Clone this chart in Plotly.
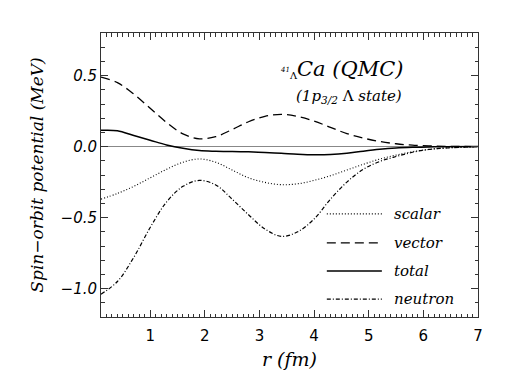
import plotly.graph_objects as go

# radius grid (fm)
r = [0.1, 0.4, 0.7, 1.0, 1.3, 1.6, 1.9, 2.2, 2.5, 2.8, 3.1, 3.4, 3.7, 4.0,
     4.3, 4.6, 4.9, 5.2, 5.5, 5.8, 6.1, 6.4, 7.0]

scalar = [-0.37, -0.33, -0.28, -0.22, -0.16, -0.11, -0.087, -0.11, -0.165, -0.22,
          -0.252, -0.268, -0.262, -0.238, -0.205, -0.165, -0.125, -0.088, -0.06,
          -0.036, -0.02, -0.01, 0.0]
vector = [0.49, 0.45, 0.37, 0.27, 0.17, 0.09, 0.055, 0.07, 0.12, 0.175, 0.213,
          0.227, 0.212, 0.18, 0.135, 0.092, 0.06, 0.036, 0.02, 0.01, 0.005, 0.002, 0.0]
total = [0.115, 0.112, 0.078, 0.045, 0.012, -0.012, -0.028, -0.033, -0.035, -0.037,
         -0.041, -0.047, -0.054, -0.058, -0.056, -0.047, -0.032, -0.019, -0.01,
         -0.005, -0.002, -0.001, 0.0]
neutron = [-1.04, -0.95, -0.78, -0.57, -0.39, -0.28, -0.238, -0.27, -0.37, -0.48,
           -0.58, -0.632, -0.60, -0.51, -0.37, -0.25, -0.16, -0.105, -0.07,
           -0.04, -0.02, -0.01, 0.0]

names = ["scalar", "vector", "total", "neutron"]
series = [scalar, vector, total, neutron]
dashes = ["1px,2px", "9px,5px", "solid", "4px,2px,1px,2px"]
widths = [1.1, 1.3, 1.5, 1.2]

serif = "DejaVu Serif"
sans = "DejaVu Sans"

fig = go.Figure()
for nm, ys, d, w in zip(names, series, dashes, widths):
    fig.add_trace(go.Scatter(x=r, y=ys, mode="lines", name=nm, showlegend=False,
                             line=dict(color="black", width=w, dash=d, shape="spline")))

# legend drawn as decoration
leg_y = [0.363, 0.261, 0.162, 0.063]
for nm, d, w, yy in zip(names, dashes, widths, leg_y):
    fig.add_shape(type="line", xref="paper", yref="paper", x0=0.599, x1=0.745,
                  y0=yy, y1=yy, line=dict(color="black", width=w, dash=d))
    fig.add_annotation(xref="paper", yref="paper", x=0.772, y=yy, xanchor="left",
                       yanchor="middle", showarrow=False, text="<i>%s</i>" % nm,
                       font=dict(family=serif, size=15, color="black"))

fig.add_annotation(xref="paper", yref="paper", x=0.637, y=0.875, showarrow=False,
                   xanchor="center", yanchor="middle",
                   text=("<span style='font-size:10px'><sup><i>41</i></sup></span>"
                         "<span style='font-size:14px'><sub>Λ</sub></span>"
                         "<i>Ca (QMC)</i>"),
                   font=dict(family=serif, size=21, color="black"))
fig.add_annotation(xref="paper", yref="paper", x=0.658, y=0.775, showarrow=False,
                   xanchor="center", yanchor="middle",
                   text="<i>(1p<sub>3/2</sub></i> Λ <i>state)</i>",
                   font=dict(family=serif, size=15, color="black"))

axis_common = dict(showline=True, linecolor="#333", linewidth=1, mirror="allticks",
                   ticks="inside", ticklen=7, tickcolor="#333", showgrid=False)

fig.update_xaxes(range=[0.1, 7], tick0=0, dtick=1, **axis_common,
                 minor=dict(dtick=0.1, ticks="inside", ticklen=3.5, tickcolor="#333"),
                 tickfont=dict(family=sans, size=15, color="black"),
                 ticklabelstandoff=5,
                 title=dict(text="<i>r (fm)</i>", font=dict(family=serif, size=19, color="black"),
                            standoff=8),
                 zeroline=False)
fig.update_yaxes(range=[-1.2, 0.8], tick0=0, dtick=0.5, tickformat=".1f", **axis_common,
                 minor=dict(dtick=0.1, ticks="inside", ticklen=3.5, tickcolor="#333"),
                 tickfont=dict(family=sans, size=15, color="black", style="italic"),
                 title=dict(text="<i>Spin−orbit potential (MeV)</i>",
                            font=dict(family=serif, size=17, color="black"), standoff=12),
                 zeroline=True, zerolinecolor="#888", zerolinewidth=1)

fig.update_layout(width=500, height=374, margin=dict(l=93, r=30, t=25, b=65),
                  plot_bgcolor="white", paper_bgcolor="white", showlegend=False)

fig.write_html("out.html")
